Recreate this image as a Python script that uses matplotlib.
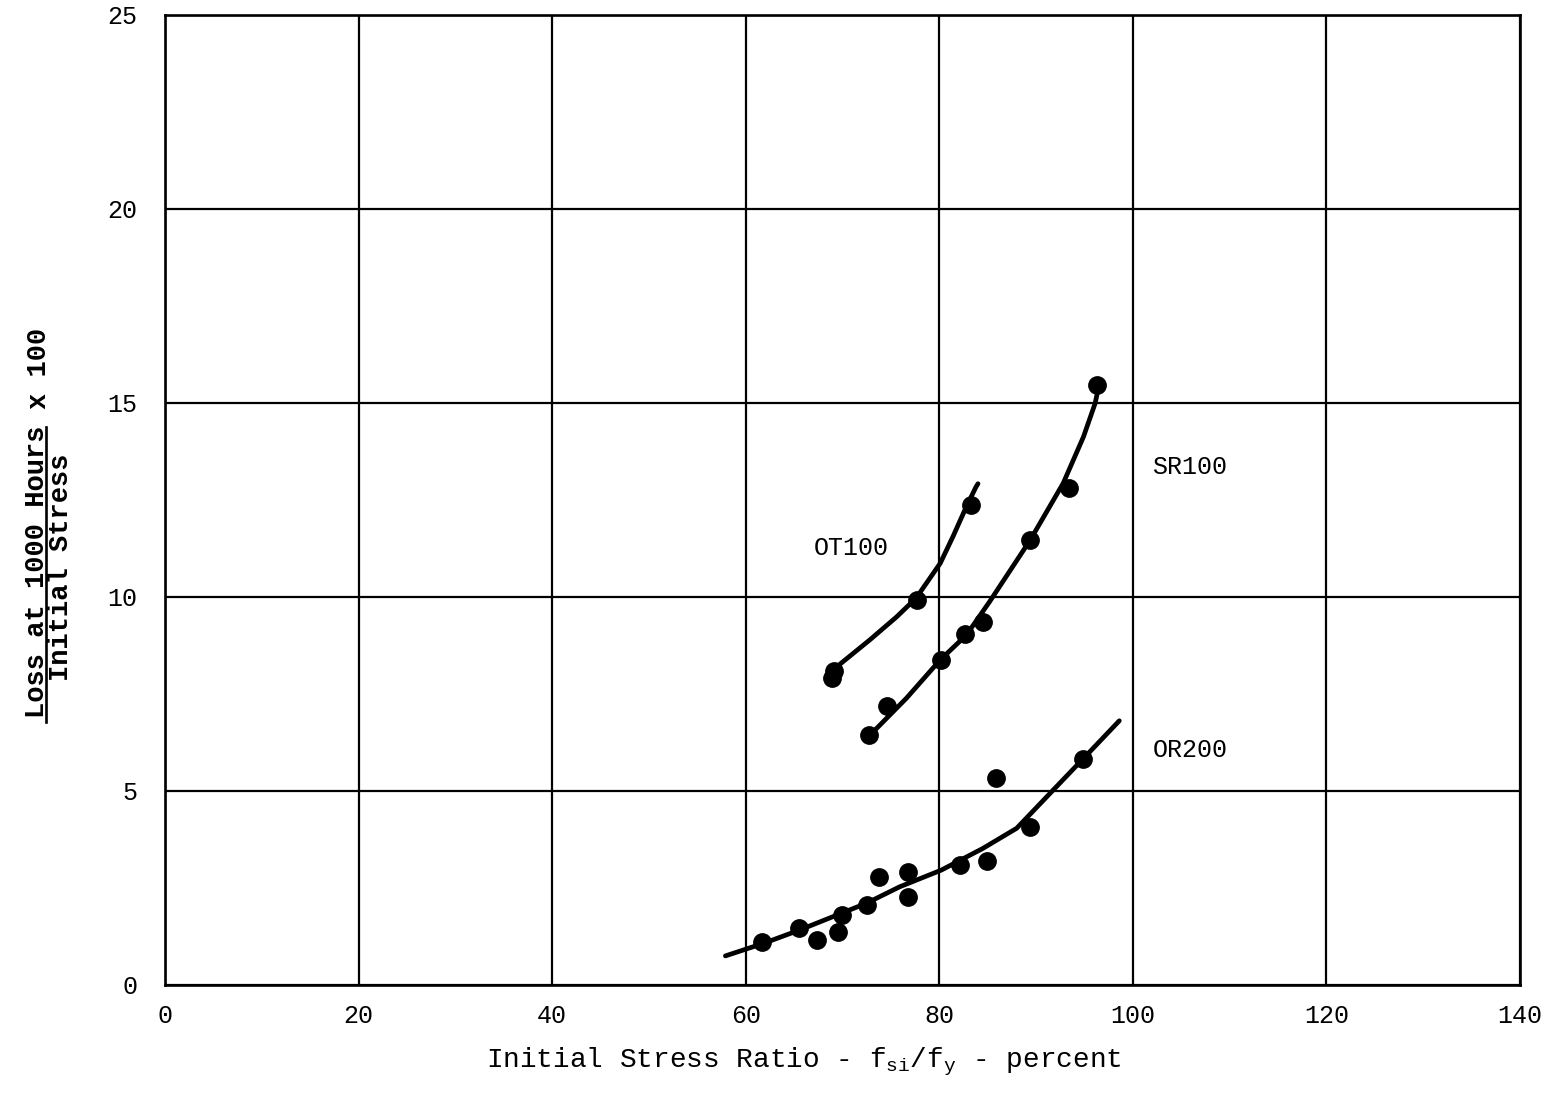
import matplotlib
matplotlib.use("Agg")
import matplotlib.pyplot as plt
from matplotlib.lines import Line2D

plt.rcParams['font.family'] = ['Liberation Mono', 'DejaVu Sans Mono']
plt.rcParams['mathtext.fontset'] = 'custom'
plt.rcParams['mathtext.rm'] = 'Liberation Mono'
plt.rcParams['mathtext.tt'] = 'Liberation Mono'
plt.rcParams['mathtext.it'] = 'Liberation Mono'

# ---- data ----
ot100_x = [68.9, 69.1, 77.7, 83.3]
ot100_y = [7.9, 8.1, 9.92, 12.37]
ot100_curve_x = [68.7, 69.0, 72.8, 75.6, 77.6, 80.1, 81.4, 82.8, 83.8, 84.0]
ot100_curve_y = [7.95, 8.12, 8.89, 9.49, 9.97, 10.87, 11.55, 12.33, 12.84, 12.92]

sr100_x = [72.7, 74.6, 80.2, 82.7, 84.5, 89.4, 93.4, 96.3]
sr100_y = [6.44, 7.19, 8.38, 9.05, 9.36, 11.47, 12.81, 15.46]
sr100_curve_x = [72.6, 76.6, 80.1, 82.8, 85.2, 89.4, 92.8, 94.9, 96.1, 96.4]
sr100_curve_y = [6.38, 7.39, 8.38, 9.02, 9.88, 11.47, 12.93, 14.13, 14.99, 15.34]

or200_x = [61.7, 65.5, 67.4, 69.5, 69.9, 72.5, 73.8, 76.8, 76.8, 82.1, 84.9, 85.9, 89.4, 94.9]
or200_y = [1.12, 1.46, 1.16, 1.37, 1.80, 2.06, 2.79, 2.92, 2.28, 3.09, 3.20, 5.33, 4.08, 5.82]
or200_curve_x = [57.9, 61.8, 65.6, 72.5, 75.9, 80.2, 84.5, 88.0, 91.1, 94.9, 98.6]
or200_curve_y = [0.75, 1.07, 1.42, 2.11, 2.53, 2.96, 3.52, 4.04, 4.85, 5.84, 6.81]

series_labels = ['OT100', 'SR100', 'OR200']
label_x = [70.9, 105.9, 105.9]
label_y = [11.26, 13.35, 6.06]

x_ticks = [0, 20, 40, 60, 80, 100, 120, 140]
y_ticks = [0, 5, 10, 15, 20, 25]

fig = plt.figure(figsize=(15.56, 10.98), dpi=100)
ax = fig.add_axes([165/1556, 1-985/1098, (1520-165)/1556, (985-15)/1098])

ax.set_xlim(0, 140)
ax.set_ylim(0, 25)
ax.set_xticks(x_ticks)
ax.set_yticks(y_ticks)
ax.set_xticklabels([str(t) for t in x_ticks])
ax.set_yticklabels([str(t) for t in y_ticks])
ax.tick_params(length=0, labelsize=18)
ax.tick_params(axis='x', pad=14)
ax.tick_params(axis='y', pad=20)
ax.grid(True, color='black', linewidth=1.6)
ax.set_axisbelow(True)
for s in ax.spines.values():
    s.set_linewidth(1.9)
    s.set_color('black')

for cx, cy, px, py in [(ot100_curve_x, ot100_curve_y, ot100_x, ot100_y),
                       (sr100_curve_x, sr100_curve_y, sr100_x, sr100_y),
                       (or200_curve_x, or200_curve_y, or200_x, or200_y)]:
    ax.plot(cx, cy, color='black', linewidth=3.4, solid_capstyle='round',
            solid_joinstyle='round', zorder=3)
    ax.plot(px, py, 'o', color='black', markersize=12.5, zorder=4)

for lab, lx, ly in zip(series_labels, label_x, label_y):
    ax.text(lx, ly, lab, fontsize=18, ha='center', va='center')

ax.set_xlabel(r'Initial Stress Ratio - f$_{\mathrm{si}}$/f$_{\mathrm{y}}$ - percent',
              fontsize=20)
ax.xaxis.set_label_coords((804 - 165) / 1355, -(1062 - 985) / 970)
ax.xaxis.label.set_va('center')

# y label as a fraction
fig.text(37/1556, 1-572/1098, 'Loss at 1000 Hours', rotation=90, fontsize=19.5,
         fontweight='bold', ha='center', va='center')
fig.text(61/1556, 1-567/1098, 'Initial Stress', rotation=90, fontsize=19.5,
         fontweight='bold', ha='center', va='center')
fig.text(39/1556, 1-368/1098, 'x 100', rotation=90, fontsize=19.5,
         fontweight='bold', ha='center', va='center')
fig.add_artist(Line2D([46/1556, 46/1556], [1-722/1098, 1-427/1098],
                      color='black', linewidth=1.9, transform=fig.transFigure))

fig.savefig('out.png', dpi=100)
